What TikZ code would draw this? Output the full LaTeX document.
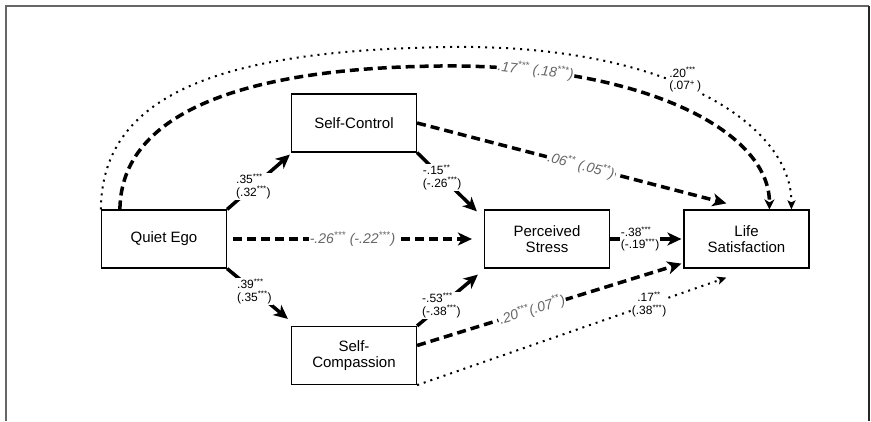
\documentclass[tikz,border=0pt]{standalone}
\usepackage{fontspec}
\setmainfont{Liberation Sans}
\usetikzlibrary{arrows.meta}
\newcommand{\sig}[1]{\textsuperscript{#1}}
\begin{document}
\begin{tikzpicture}[x=1pt,y=-1pt,
  box/.style={draw, line width=1.2pt, minimum width=125pt, minimum height=58pt, inner sep=2pt, align=center, font=\fontsize{15}{16}\selectfont},
  solidarr/.style={line width=3.5pt, -{Stealth[length=14pt,width=13pt,inset=4pt]}},
  dasharr/.style={line width=3.5pt, dash pattern=on 9pt off 5pt, -{Stealth[length=14pt,width=13pt,inset=4pt]}},
  dotarr/.style={line width=2pt, dash pattern=on 2pt off 5pt, -{Stealth[length=9pt,width=8pt,inset=2pt]}},
  curvedash/.style={line width=3.5pt, dash pattern=on 9pt off 5pt, -{Stealth[length=10pt,width=10pt,inset=3pt]}},
  curvedot/.style={line width=2pt, dash pattern=on 2pt off 5pt, -{Stealth[length=9pt,width=8pt,inset=2pt]}},
  lab/.style={fill=white, inner sep=1pt, align=left, font=\fontsize{12}{12.5}\selectfont},
  ilab/.style={fill=white, inner sep=1pt, text=black!60, font=\fontsize{14}{15}\selectfont\itshape},
  frame/.style={line width=2pt, draw=black!60}
]
\useasboundingbox (0,0) rectangle (871,421);
\coordinate (FTL) at (6,6);
\coordinate (FTR) at (869,6);
\coordinate (FBL) at (6,421);
\coordinate (FBR) at (869,421);
\draw[frame] (FBL) -- (FTL) -- (FTR);
\draw[line width=2pt, draw=black!85] (FTR) -- (FBR);

\node[box] (QE) at (164,239) {Quiet Ego};
\node[box] (SC) at (354,123) {Self-Control};
\node[box] (SCm) at (354,355.5) {Self-\\Compassion};
\node[box] (PS) at (547,239) {Perceived\\Stress};
\node[box] (LS) at (746.5,239) {Life\\Satisfaction};

% curved paths
\draw[curvedot] (QE.north west) .. controls (101.7,90) and (230,50) .. (450,47)
  .. controls (670,44) and (792,125) .. node[pos=0.45, yshift=7pt, lab] {.20\sig{***}\\(.07\sig{+}\,)} ([xshift=108pt]LS.north west);
\draw[curvedash] ([xshift=19pt]QE.north west) .. controls (121,110) and (250,68) .. (440,66)
  .. controls (640,64) and (770,130) .. node[pos=0.17, sloped, ilab] {.17\sig{***} (.18\sig{***})} ([xshift=86pt]LS.north west);

% solid arrows
\draw[solidarr] (QE.north east) -- node[pos=0.42, lab] {.35\sig{***}\\(.32\sig{***})} ([xshift=-1pt,yshift=-2pt]SC.south west);
\draw[solidarr] (SC.south east) -- node[pos=0.42, lab] {-.15\sig{**}\\(-.26\sig{***})} ([xshift=-7pt,yshift=-2pt]PS.north west);
\draw[solidarr] (QE.south east) -- node[pos=0.45, lab] {.39\sig{***}\\(.35\sig{***})} ([xshift=-3pt,yshift=7pt]SCm.north west);
\draw[solidarr] (SCm.north east) -- node[pos=0.4, lab] {-.53\sig{***}\\(-.38\sig{***})} ([xshift=-6pt,yshift=-6pt]PS.south west);
\draw[solidarr] (PS.east) -- node[pos=0.42, lab] {-.38\sig{***}\\(-.19\sig{***})} ([xshift=-2pt]LS.west);

% dashed arrows
\draw[dasharr] ([xshift=6pt]QE.east) -- node[pos=0.5, ilab] {-.26\sig{***} (-.22\sig{***})} ([xshift=-12pt]PS.west);
\draw[dasharr] (SC.east) -- node[pos=0.53, sloped, ilab] {.06\sig{**} (.05\sig{**})} ([xshift=43pt,yshift=6pt]LS.north west);
\draw[dasharr] ([yshift=10pt]SCm.east) -- node[pos=0.435, sloped, ilab] {.20\sig{***}(.07\sig{**})} ([xshift=-2pt,yshift=5pt]LS.south west);

% dotted arrow
\draw[dotarr] (SCm.south east) -- node[pos=0.75, lab, align=center] {.17\sig{**}\\(.38\sig{***})} ([xshift=43pt,yshift=-9pt]LS.south west);
\end{tikzpicture}
\end{document}
